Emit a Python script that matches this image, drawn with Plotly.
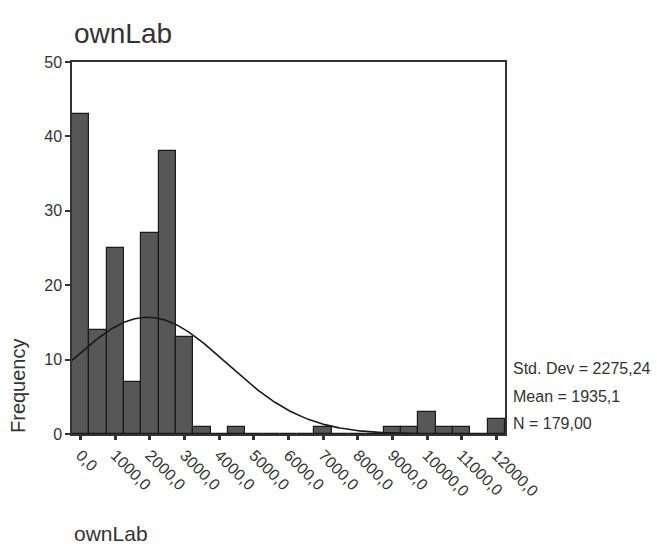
import numpy as np
import plotly.graph_objects as go

# Histogram of ownLab (bin width 500, bins centred on multiples of 500)
bin_centers = [0, 500, 1000, 1500, 2000, 2500, 3000, 3500, 4000, 4500, 5000, 5500,
               6000, 6500, 7000, 7500, 8000, 8500, 9000, 9500, 10000, 10500, 11000,
               11500, 12000]
frequencies = [43, 14, 25, 7, 27, 38, 13, 1, 0, 1, 0, 0,
               0, 0, 1, 0, 0, 0, 1, 1, 3, 1, 1,
               0, 2]
bin_width = 500

# Summary statistics shown beside the chart
std_dev = 2275.24
mean = 1935.1
n_obs = 179

x_tick_values = [0, 1000, 2000, 3000, 4000, 5000, 6000, 7000, 8000, 9000, 10000, 11000, 12000]
x_tick_labels = ["0,0", "1000,0", "2000,0", "3000,0", "4000,0", "5000,0", "6000,0",
                 "7000,0", "8000,0", "9000,0", "10000,0", "11000,0", "12000,0"]
y_tick_values = [0, 10, 20, 30, 40, 50]

FONT = "Liberation Sans, Arial, sans-serif"
TEXT = "#333333"

W, H = 657, 544
ML, MR, MT, MB = 72, 152, 62, 110
plot_w = W - ML - MR
plot_h = H - MT - MB


def decimal_comma(value, digits):
    return f"{value:.{digits}f}".replace(".", ",")


# Normal curve scaled to counts per bin
xs = np.linspace(-250, 12250, 400)
curve = n_obs * bin_width / (std_dev * np.sqrt(2 * np.pi)) * np.exp(-0.5 * ((xs - mean) / std_dev) ** 2)

fig = go.Figure()
fig.add_trace(go.Bar(
    x=bin_centers, y=frequencies, width=bin_width,
    marker=dict(color="#575757", line=dict(color="#1a1a1a", width=1.2)),
    hoverinfo="x+y",
))
fig.add_trace(go.Scatter(
    x=xs, y=curve, mode="lines",
    line=dict(color="#1a1a1a", width=1.6),
    hoverinfo="skip",
))

fig.update_layout(
    width=W, height=H,
    margin=dict(l=ML, r=MR, t=MT, b=MB),
    paper_bgcolor="white", plot_bgcolor="white",
    showlegend=False, bargap=0,
    font=dict(family=FONT, color=TEXT),
)
fig.update_xaxes(
    range=[-250, 12250], tickvals=x_tick_values, ticktext=x_tick_labels,
    tickangle=45, tickfont=dict(size=16, color=TEXT),
    showline=True, linecolor="#333333", linewidth=1.5, mirror=True,
    ticks="outside", ticklen=4, tickwidth=2.5, tickcolor="#333333",
    showgrid=False, zeroline=False,
)
fig.update_yaxes(
    range=[0, 50], tickvals=y_tick_values,
    tickfont=dict(size=16, color=TEXT),
    showline=True, linecolor="#333333", linewidth=1.5, mirror=True,
    ticks="outside", ticklen=5, tickwidth=1.5, tickcolor="#333333",
    showgrid=False, zeroline=False,
)

# (text, left x in px, centre y in px, font size)
labels = [
    ("ownLab", 72, 33, 28),
    ("ownLab", 72, 533, 21),
    ("Std. Dev = " + decimal_comma(std_dev, 2), 511, 368, 16),
    ("Mean = " + decimal_comma(mean, 1), 511, 396, 16),
    ("N = " + decimal_comma(n_obs, 2), 511, 423, 16),
]
for text, px, py, size in labels:
    fig.add_annotation(
        text=text, xref="paper", yref="paper",
        x=(px - ML) / plot_w, y=(H - MB - py) / plot_h,
        showarrow=False, xanchor="left", yanchor="middle",
        font=dict(family=FONT, color=TEXT, size=size),
    )

fig.add_annotation(
    text="Frequency", xref="paper", yref="paper",
    x=(18 - ML) / plot_w, y=(H - MB - 386) / plot_h,
    textangle=-90, showarrow=False, xanchor="center", yanchor="middle",
    font=dict(family=FONT, color=TEXT, size=20),
)

fig.write_html("out.html")
